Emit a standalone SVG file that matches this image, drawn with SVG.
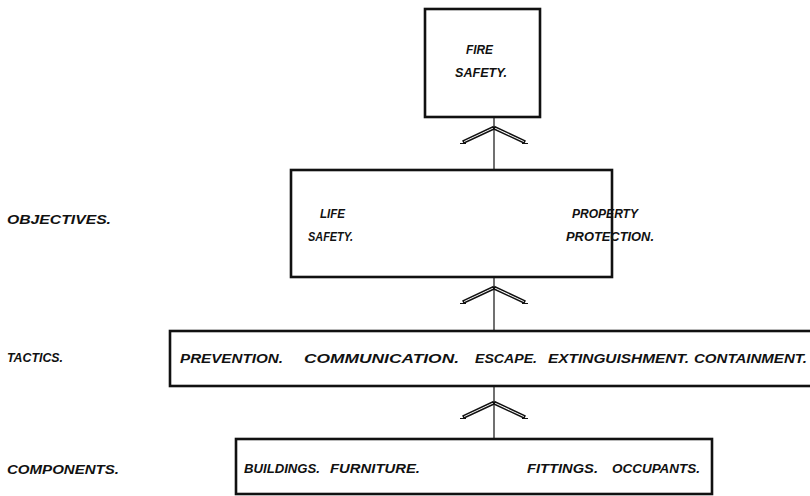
<svg xmlns="http://www.w3.org/2000/svg" width="810" height="496" viewBox="0 0 810 496">
<style>
.box{fill:#fff;stroke:#111;stroke-width:2.6}
.t{font-family:"Liberation Sans",Arial,sans-serif;font-style:italic;font-weight:bold;font-size:12.5px;fill:#111}
.ln{stroke:#111;stroke-width:1.2;fill:none}
.arm{fill:#fff;stroke:#111;stroke-width:1.4;stroke-linejoin:miter}
</style>
<defs>
<g id="chev">
<path class="arm" d="M0,0 L-30,14 L-31,11.8 L-1,-2.2 Z"/>
<path class="arm" d="M0,0 L30,14 L31,11.8 L1,-2.2 Z"/>
<path class="ln" d="M-34,14.5 L-28,14.5 M28,14.5 L34,14.5"/>
</g>
</defs>
<rect width="810" height="496" fill="#fff"/>
<g id="connectors">
<line class="ln" x1="494" y1="117" x2="494" y2="170"/>
<use href="#chev" x="494" y="129"/>
<line class="ln" x1="494" y1="277" x2="494" y2="331"/>
<use href="#chev" x="494" y="289"/>
<line class="ln" x1="494" y1="386" x2="494" y2="439"/>
<use href="#chev" x="494" y="404"/>
</g>
<g id="fire-safety">
<rect class="box" x="425" y="9" width="115" height="108"/>
<text class="t" x="466" y="54" textLength="27" lengthAdjust="spacingAndGlyphs">FIRE</text>
<text class="t" x="455" y="77" textLength="52" lengthAdjust="spacingAndGlyphs">SAFETY.</text>
</g>
<g id="objectives">
<rect class="box" x="291" y="170" width="321" height="107"/>
<text class="t" x="320" y="218" textLength="25" lengthAdjust="spacingAndGlyphs">LIFE</text>
<text class="t" x="308" y="241" textLength="45" lengthAdjust="spacingAndGlyphs">SAFETY.</text>
<text class="t" x="572" y="218" textLength="66" lengthAdjust="spacingAndGlyphs">PROPERTY</text>
<text class="t" x="566" y="241" textLength="88" lengthAdjust="spacingAndGlyphs">PROTECTION.</text>
</g>
<g id="tactics">
<rect class="box" x="170" y="331" width="660" height="55"/>
<text class="t" x="180" y="363" textLength="103" lengthAdjust="spacingAndGlyphs">PREVENTION.</text>
<text class="t" x="304" y="363" textLength="155" lengthAdjust="spacingAndGlyphs">COMMUNICATION.</text>
<text class="t" x="475" y="363" textLength="62" lengthAdjust="spacingAndGlyphs">ESCAPE.</text>
<text class="t" x="548" y="363" textLength="141" lengthAdjust="spacingAndGlyphs">EXTINGUISHMENT.</text>
<text class="t" x="694" y="363" textLength="113" lengthAdjust="spacingAndGlyphs">CONTAINMENT.</text>
</g>
<g id="components">
<rect class="box" x="236" y="439" width="476" height="55"/>
<text class="t" x="244" y="473" textLength="76" lengthAdjust="spacingAndGlyphs">BUILDINGS.</text>
<text class="t" x="330" y="473" textLength="90" lengthAdjust="spacingAndGlyphs">FURNITURE.</text>
<text class="t" x="527" y="473" textLength="71" lengthAdjust="spacingAndGlyphs">FITTINGS.</text>
<text class="t" x="612" y="473" textLength="88" lengthAdjust="spacingAndGlyphs">OCCUPANTS.</text>
</g>
<g id="level-labels">
<text class="t" x="7" y="224" textLength="104" lengthAdjust="spacingAndGlyphs">OBJECTIVES.</text>
<text class="t" x="7" y="362" textLength="56" lengthAdjust="spacingAndGlyphs">TACTICS.</text>
<text class="t" x="7" y="474" textLength="112" lengthAdjust="spacingAndGlyphs">COMPONENTS.</text>
</g>
</svg>
